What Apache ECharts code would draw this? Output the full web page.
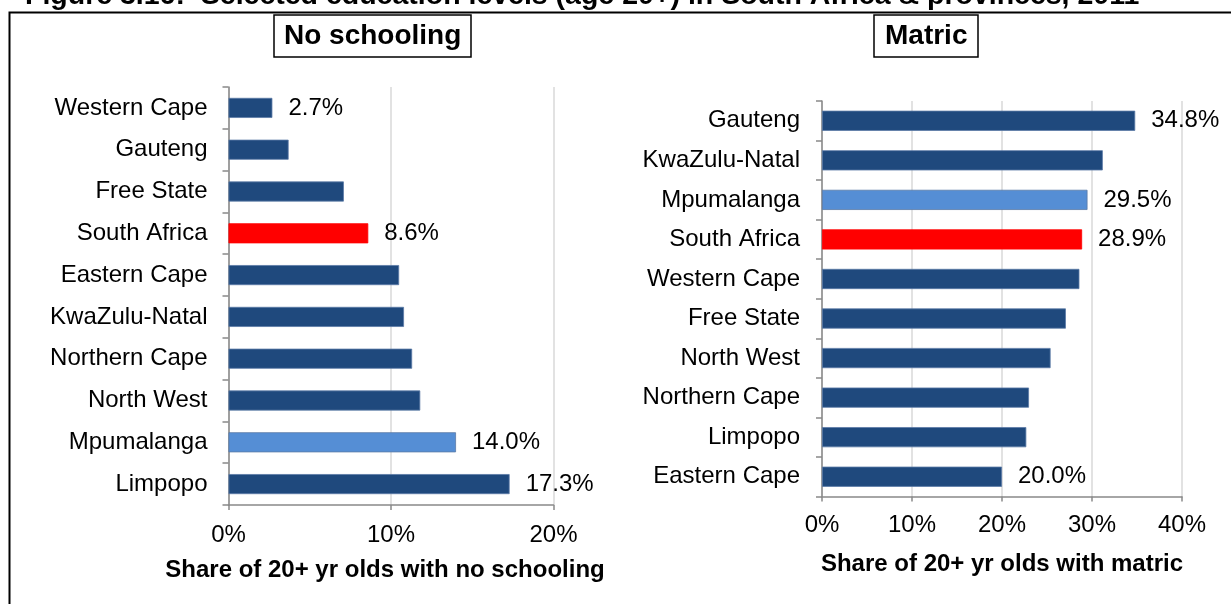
<!DOCTYPE html>
<html>
<head>
<meta charset="utf-8">
<script src="https://cdn.jsdelivr.net/npm/echarts@6/dist/echarts.min.js"></script>
<style>
  html, body { margin: 0; padding: 0; background: #fff; }
  #chart { width: 1231px; height: 604px; }
</style>
</head>
<body>
<div id="chart"></div>
<script>
var noSchoolCats = ['Western Cape', 'Gauteng', 'Free State', 'South Africa', 'Eastern Cape',
  'KwaZulu-Natal', 'Northern Cape', 'North West', 'Mpumalanga', 'Limpopo']
var noSchoolVals = [2.7, 3.7, 7.1, 8.6, 10.5, 10.8, 11.3, 11.8, 14.0, 17.3]
var noSchoolLabelled = ['Western Cape', 'South Africa', 'Mpumalanga', 'Limpopo']

var matricCats = ['Gauteng', 'KwaZulu-Natal', 'Mpumalanga', 'South Africa', 'Western Cape',
  'Free State', 'North West', 'Northern Cape', 'Limpopo', 'Eastern Cape']
var matricVals = [34.8, 31.2, 29.5, 28.9, 28.6, 27.1, 25.4, 23.0, 22.7, 20.0]
var matricLabelled = ['Gauteng', 'Mpumalanga', 'South Africa', 'Eastern Cape']

var noSchoolTicks = [0, 10, 20]
var matricTicks = [0, 10, 20, 30, 40]

var FONT = '"Liberation Sans", Arial, sans-serif'
var COLORS = {
  bar: '#1F497D',
  highlight: '#558ED5',
  national: '#FF0000',
  axis: '#898989',
  grid: '#D9D9D9'
}

function barColor(name) {
  if (name === 'South Africa') return COLORS.national
  if (name === 'Mpumalanga') return COLORS.highlight
  return COLORS.bar
}

function buildData(cats, vals, labelled) {
  return cats.map(function (c, i) {
    return {
      value: vals[i],
      name: c,
      itemStyle: {
        color: barColor(c),
        borderColor: c === 'South Africa' ? COLORS.national : '#5b7aa6',
        borderWidth: 0.8
      },
      label: { show: labelled.indexOf(c) >= 0 }
    }
  })
}

function valueAxis(gridIndex, ticks, nameText, nameGap, labelMargin, namePad) {
  return {
    type: 'value',
    gridIndex: gridIndex,
    min: ticks[0],
    max: ticks[ticks.length - 1],
    interval: ticks[1] - ticks[0],
    name: nameText,
    nameLocation: 'middle',
    nameGap: nameGap,
    nameTextStyle: {
      fontFamily: FONT, fontSize: 24, fontWeight: 'bold', color: '#000', padding: namePad
    },
    axisLine: { show: true, lineStyle: { color: COLORS.axis, width: 1.5 } },
    axisTick: { show: true, length: 5, lineStyle: { color: COLORS.axis, width: 1.5 } },
    axisLabel: {
      fontFamily: FONT, fontSize: 24, color: '#000', margin: labelMargin,
      formatter: '{value}%'
    },
    splitLine: { show: true, lineStyle: { color: COLORS.grid, width: 1.5 } }
  }
}

function categoryAxis(gridIndex, cats, margin) {
  return {
    type: 'category',
    gridIndex: gridIndex,
    data: cats,
    inverse: true,
    axisLine: { show: true, lineStyle: { color: COLORS.axis, width: 1.5 } },
    axisTick: { show: true, length: 6, lineStyle: { color: COLORS.axis, width: 1.5 } },
    axisLabel: { fontFamily: FONT, fontSize: 24, color: '#000', margin: margin }
  }
}

var labelStyle = {
  position: 'right',
  distance: 16,
  fontFamily: FONT,
  fontSize: 24,
  color: '#000',
  formatter: function (p) { return p.value.toFixed(1) + '%' }
}

var chart = echarts.init(document.getElementById('chart'))
chart.setOption({
  animation: false,
  backgroundColor: '#fff',
  graphic: [
    {
      type: 'rect',
      shape: { x: 9.5, y: 12.5, width: 1400, height: 800 },
      style: { fill: 'none', stroke: '#000', lineWidth: 2 },
      silent: true
    },
    {
      type: 'text',
      x: 25,
      y: -4,
      style: {
        text: 'Figure 3.16:  Selected education levels (age 20+) in South Africa & provinces, 2011',
        font: 'bold 28.5px "Liberation Sans", Arial, sans-serif',
        fill: '#000',
        verticalAlign: 'middle'
      },
      silent: true
    }
  ],
  title: [
    {
      text: 'No schooling',
      left: 274,
      top: 15,
      padding: [6, 10],
      borderColor: '#000',
      borderWidth: 1.5,
      textStyle: { fontFamily: FONT, fontSize: 28, fontWeight: 'bold', color: '#000', lineHeight: 30 }
    },
    {
      text: 'Matric',
      left: 874,
      top: 15,
      padding: [6, 11],
      borderColor: '#000',
      borderWidth: 1.5,
      textStyle: { fontFamily: FONT, fontSize: 28, fontWeight: 'bold', color: '#000', lineHeight: 30 }
    }
  ],
  grid: [
    { left: 228.5, width: 325, top: 87, height: 418, containLabel: false },
    { left: 822, width: 360, top: 101, height: 395.5, containLabel: false }
  ],
  xAxis: [
    valueAxis(0, noSchoolTicks, 'Share of 20+ yr olds with no schooling', 53, 18, [0, 12, 0, 0]),
    valueAxis(1, matricTicks, 'Share of 20+ yr olds with matric', 56, 17, 0)
  ],
  yAxis: [
    categoryAxis(0, noSchoolCats, 21),
    categoryAxis(1, matricCats, 22)
  ],
  series: [
    {
      name: 'No schooling',
      type: 'bar',
      xAxisIndex: 0,
      yAxisIndex: 0,
      barWidth: '48%',
      data: buildData(noSchoolCats, noSchoolVals, noSchoolLabelled),
      label: labelStyle
    },
    {
      name: 'Matric',
      type: 'bar',
      xAxisIndex: 1,
      yAxisIndex: 1,
      barWidth: '51%',
      data: buildData(matricCats, matricVals, matricLabelled),
      label: labelStyle
    }
  ]
})
</script>
</body>
</html>
